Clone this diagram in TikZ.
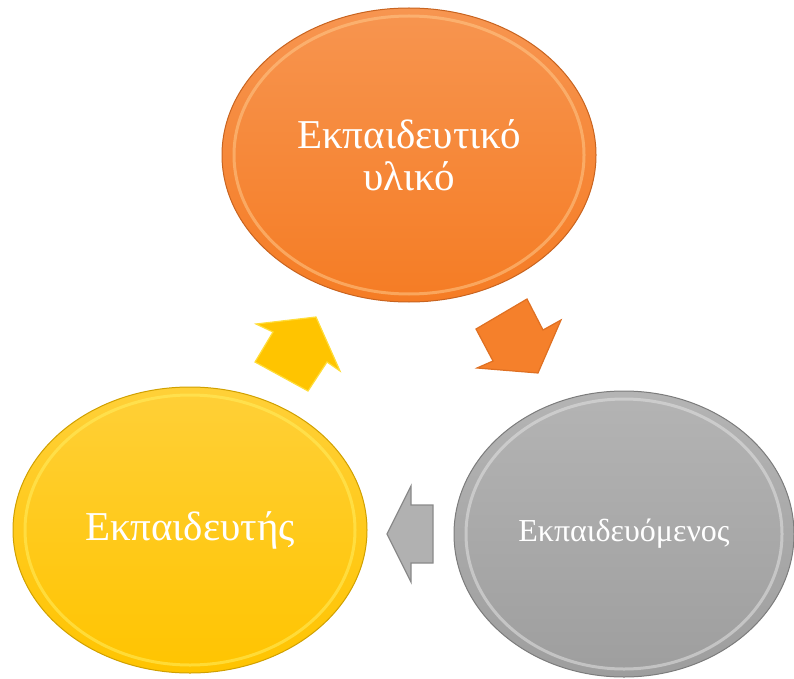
\documentclass[tikz,border=0pt]{standalone}
\usepackage{fontspec}
\setmainfont{Liberation Serif}
\usetikzlibrary{shapes.geometric}
\definecolor{orTop}{HTML}{F79550}
\definecolor{orBot}{HTML}{F57C24}
\definecolor{orEdge}{HTML}{C86420}
\definecolor{orHi}{HTML}{FFC88A}
\definecolor{yeTop}{HTML}{FFD038}
\definecolor{yeBot}{HTML}{FFC400}
\definecolor{yeEdge}{HTML}{D0A000}
\definecolor{yeHi}{HTML}{FFEE60}
\definecolor{grTop}{HTML}{B4B4B4}
\definecolor{grBot}{HTML}{9E9E9E}
\definecolor{grEdge}{HTML}{7C7C7C}
\definecolor{grHi}{HTML}{E2E2E2}
\tikzset{
  bubble/.style={ellipse, inner sep=0pt, text=white, align=center, line width=1pt},
  ring/.style={line width=3pt, opacity=0.55},
  blockarrow/.style={line width=1.2pt, line join=miter},
}
\begin{document}
\begin{tikzpicture}[x=1pt,y=-1pt]
\useasboundingbox (0,0) rectangle (794,679);
% top ellipse
\node[bubble, minimum width=374pt, minimum height=294pt, top color=orTop, bottom color=orBot, draw=orEdge,
  font=\fontsize{41}{42}\selectfont] (mat) at (409,155) {Εκπαιδευτικό\\υλικό};
\draw[ring, orHi] (409,155) ellipse [x radius=175, y radius=139];
% left ellipse
\node[bubble, minimum width=354pt, minimum height=286pt, top color=yeTop, bottom color=yeBot, draw=yeEdge,
  font=\fontsize{41}{42}\selectfont] (tea) at (190,530) {Εκπαιδευτής};
\draw[ring, yeHi] (190,530) ellipse [x radius=165, y radius=135];
% right ellipse
\node[bubble, minimum width=340pt, minimum height=286pt, top color=grTop, bottom color=grBot, draw=grEdge,
  font=\fontsize{32}{34}\selectfont] (stu) at (624,534) {Εκπαιδευόμενος};
\draw[ring, grHi] (624,534) ellipse [x radius=158, y radius=135];
% arrows
\filldraw[blockarrow, fill=yeBot, draw=yeHi!60!yeBot]
  (255,362) -- (273,332) -- (256,324) -- (316,317) -- (340,371) -- (327,362) -- (308,391) -- cycle;
\filldraw[blockarrow, fill=orBot!85!orTop, draw=orEdge!50!orBot]
  (476,329) -- (527,299) -- (543,330) -- (561,320) -- (538,373) -- (477,368) -- (493,361) -- cycle;
\filldraw[blockarrow, fill=grTop!85!grBot, draw=grEdge!60!grBot]
  (433,505) -- (433,563) -- (411,563) -- (411,582) -- (387,534) -- (411,486) -- (411,505) -- cycle;
\end{tikzpicture}
\end{document}
